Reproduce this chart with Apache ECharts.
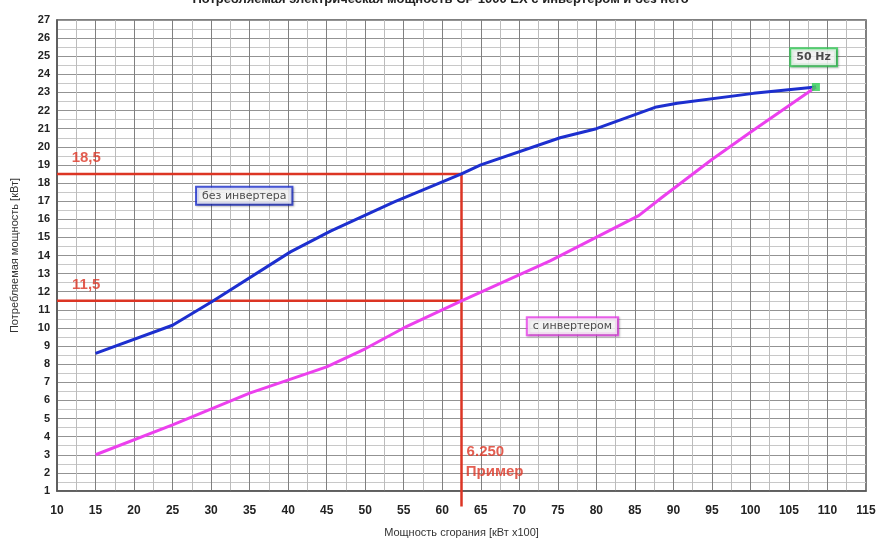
<!DOCTYPE html>
<html><head><meta charset="utf-8">
<script src="https://cdn.jsdelivr.net/npm/echarts@6/dist/echarts.min.js"></script>
<style>html,body{margin:0;padding:0;background:#fff}#c{width:881px;height:543px}</style>
</head><body><div id="c"></div>
<script>
const titleText = 'Потребляемая электрическая мощность CP 1000 EX с инвертером и без него';
const xName = 'Мощность сгорания [кВт х100]';
const yName = 'Потребляемая мощность [кВт]';
const withoutInverter = [[15,8.6],[25,10.15],[30.3,11.5],[40.3,14.2],[45.5,15.35],[53.7,16.95],[62.5,18.5],[65,19.0],[75.3,20.5],[80,21.0],[87.8,22.2],[90.5,22.4],[100.4,22.95],[108.5,23.3]];
const withInverter = [[15,3.0],[25,4.65],[35,6.4],[45,7.85],[50,8.85],[55,10.0],[62.5,11.5],[74,13.7],[85.5,16.2],[88.5,17.2],[95,19.3],[100,20.8],[108.5,23.3]];
const point50Hz = [[108.5,23.3]];
const refLineHigh = [[10,18.5],[62.5,18.5]];
const refLineLow = [[10,11.5],[62.5,11.5]];
const refLineVert = [[62.5,18.5],[62.5,0.15]];
const redTexts = [{v:[13.8,19.4],t:'18,5'},{v:[13.8,12.4],t:'11,5'},{v:[65.6,3.15],t:'6.250'},{v:[66.8,2.05],t:'Пример'}];
const boxWithout = [[34.3,17.3]];
const boxWith = [[76.9,10.1]];
const box50 = [[108.2,24.95]];

const chart = echarts.init(document.getElementById('c'));
const RED = '#dc3524', BLUE = '#1d2fcf', MAG = '#ec40ee', GREEN = '#2fcf55';
function boxSeries(data, text, border, bold, size) {
  return {type:'scatter', data:data, symbolSize:0, silent:true, z:10,
    label:{show:true, position:'inside', formatter:text, color:'#222', fontSize:size, fontFamily:'DejaVu Sans',
      fontWeight: bold?'bold':'normal',
      backgroundColor:'#fff', borderColor:border, borderWidth:2, padding:[3,5,2,5], shadowColor:'rgba(0,0,0,0.3)', shadowBlur:2, shadowOffsetX:1, shadowOffsetY:1}};
}
chart.setOption({
  animation:false,
  title:{text:titleText, left:'center', top:-12, textStyle:{fontSize:13, fontWeight:'bold', color:'#222', fontFamily:'Liberation Sans'}},
  grid:{left:57, right:15, top:20, bottom:50, show:true, borderColor:'#555', borderWidth:1.5},
  xAxis:{type:'value', min:10, max:115, interval:5, name:xName, nameLocation:'middle', nameGap:36,
    nameTextStyle:{fontSize:11, color:'#333', fontFamily:'Liberation Sans'},
    axisLine:{show:true, lineStyle:{color:'#555', width:1.5}}, axisTick:{show:false},
    axisLabel:{color:'#222', fontSize:12, fontWeight:'bold', margin:14, fontFamily:'Liberation Sans'},
    splitLine:{lineStyle:{color:'#808080', width:1}},
    minorTick:{show:false, splitNumber:2}, minorSplitLine:{show:true, lineStyle:{color:'#bcbcbc', width:1}}},
  yAxis:{type:'value', min:1, max:27, interval:1, name:yName, nameLocation:'middle', nameGap:37,
    nameTextStyle:{fontSize:11, color:'#333', fontFamily:'Liberation Sans'},
    axisLine:{show:true, lineStyle:{color:'#555', width:1.5}}, axisTick:{show:false},
    axisLabel:{color:'#222', fontSize:11, fontWeight:'bold', margin:7, fontFamily:'Liberation Sans'},
    splitLine:{lineStyle:{color:'#939393', width:1}},
    minorTick:{show:false, splitNumber:2}, minorSplitLine:{show:true, lineStyle:{color:'#c8c8c8', width:1}}},
  series:[
    {type:'line', data:refLineHigh, symbol:'none', lineStyle:{color:RED, width:2.5}, z:3, silent:true},
    {type:'line', data:refLineLow, symbol:'none', lineStyle:{color:RED, width:2.5}, z:3, silent:true},
    {type:'line', data:refLineVert, symbol:'none', clip:false, lineStyle:{color:RED, width:2.5}, z:3, silent:true},
    {type:'line', name:'без инвертера', data:withoutInverter, symbol:'none', lineStyle:{color:BLUE, width:3}, z:4},
    {type:'line', name:'с инвертером', data:withInverter, symbol:'none', lineStyle:{color:MAG, width:3}, z:4},
    {type:'scatter', data:point50Hz, symbol:'rect', symbolSize:8, itemStyle:{color:GREEN}, z:5},
    {type:'scatter', data:redTexts.map(d=>({value:d.v, t:d.t})), symbolSize:0, silent:true, z:6,
      label:{show:true, position:'inside', formatter:p=>p.data.t, color:RED, fontSize:15, fontWeight:'bold', fontFamily:'Liberation Sans'}},
    boxSeries(boxWithout, 'без инвертера', BLUE, false, 11),
    boxSeries(boxWith, 'с инвертером', MAG, false, 11),
    boxSeries(box50, '50 Hz', GREEN, true, 11)
  ]
});
</script></body></html>
